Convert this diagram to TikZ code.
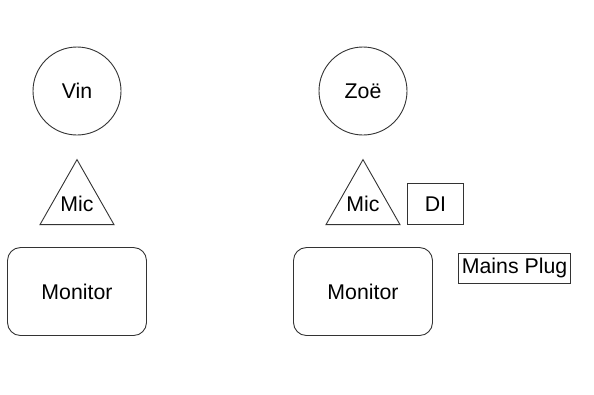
\documentclass[tikz,border=0pt]{standalone}
\usepackage{fontspec}
\setmainfont{Liberation Sans}
\usetikzlibrary{positioning,shapes.geometric}

\begin{document}
\begin{tikzpicture}
				[x=1pt,y=-1pt,every node/.style={draw=black!80, line width=0.9pt, font=\fontsize{21.3}{24}\selectfont, inner sep=0pt},
				singer/.style={circle, minimum size=88pt},
				mic/.style={isosceles triangle, shape border rotate=90, isosceles triangle stretches, minimum width=74pt, minimum height=65pt,
					label={[draw=none, anchor=south, yshift=13pt]south:Mic}},
				wedge/.style={rounded corners=13pt, minimum width=139pt, minimum height=88pt},
				node distance=23pt]
				\useasboundingbox (0,0) rectangle (594,394);
				
				% left side
				\node (vin) [singer] at (77,91) {Vin};
				\node (micv) [mic, below=of vin] {};
				\node (monv) [wedge, below=22pt of micv] {Monitor};
				
				% right side
				\node (zoe) [singer] at (363,91) {Zoë};
				\node (micz) [mic, below=of zoe] {};
				\node (monz) [wedge, below=22pt of micz] {Monitor};
				\node (di) [anchor=south west, minimum width=56pt, minimum height=41pt] at ([xshift=44pt]micz.south) {DI};
				\node (plug) [anchor=north west, inner xsep=3.5pt, inner ysep=5pt] at ([xshift=25pt,yshift=-6pt]monz.north east) {Mains Plug};
			\end{tikzpicture}
\end{document}
